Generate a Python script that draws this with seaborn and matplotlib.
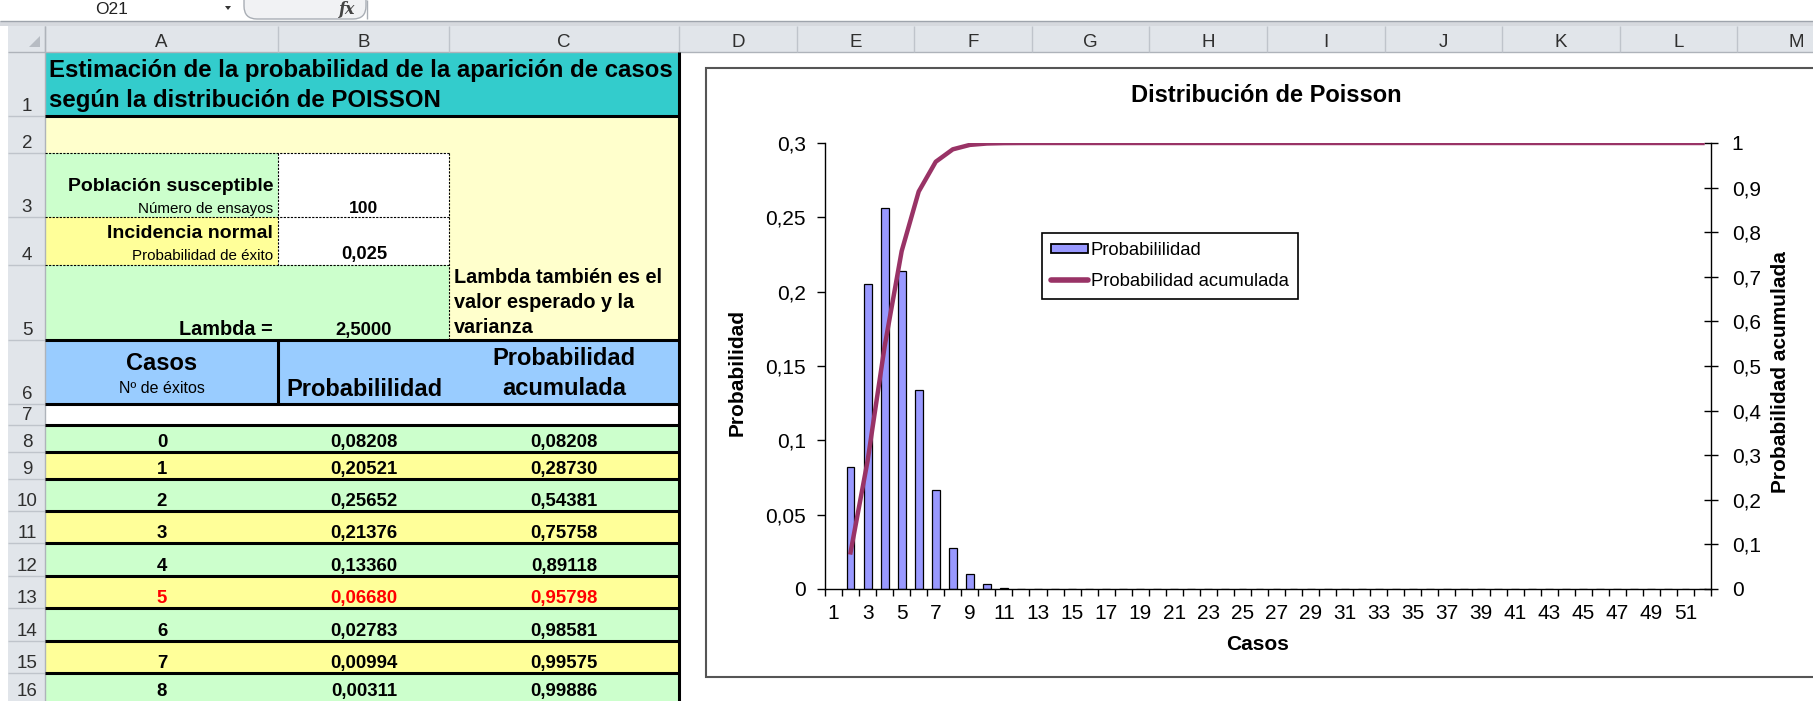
import numpy as np
import pandas as pd
import matplotlib
matplotlib.use("Agg")
import matplotlib.pyplot as plt
import seaborn as sns
from matplotlib.patches import Rectangle, Patch, Polygon, FancyBboxPatch
from matplotlib.lines import Line2D
from matplotlib.transforms import Affine2D
from matplotlib import font_manager as fm

# ---------------- data ----------------
casos = list(range(1, 53))   # Excel category numbers on the x axis
# first category is the blank row of the sheet, then P(X=k), k = 0..50
probabilidad = [np.nan,
                0.08208, 0.20521, 0.25652, 0.21376, 0.13360, 0.06680, 0.02783, 0.00994,
                0.00311, 0.00086, 0.00022, 0.00005, 0.00001, 0.000002, 0.0000004, 0.00000006,
                0.0, 0.0, 0.0, 0.0, 0.0, 0.0, 0.0, 0.0, 0.0, 0.0,
                0.0, 0.0, 0.0, 0.0, 0.0, 0.0, 0.0, 0.0, 0.0, 0.0,
                0.0, 0.0, 0.0, 0.0, 0.0, 0.0, 0.0, 0.0, 0.0, 0.0,
                0.0, 0.0, 0.0, 0.0, 0.0]
acumulada = [np.nan,
             0.08208, 0.28730, 0.54381, 0.75758, 0.89118, 0.95798, 0.98581, 0.99575,
             0.99886, 0.99972, 0.99994, 0.99999, 1.0, 1.0, 1.0, 1.0,
             1.0, 1.0, 1.0, 1.0, 1.0, 1.0, 1.0, 1.0, 1.0, 1.0,
             1.0, 1.0, 1.0, 1.0, 1.0, 1.0, 1.0, 1.0, 1.0, 1.0,
             1.0, 1.0, 1.0, 1.0, 1.0, 1.0, 1.0, 1.0, 1.0, 1.0,
             1.0, 1.0, 1.0, 1.0, 1.0]
x_tick_labels = [str(c) for c in casos[::2]]
left_ticks = [0, 0.05, 0.1, 0.15, 0.2, 0.25, 0.3]
left_labels = ["0", "0,05", "0,1", "0,15", "0,2", "0,25", "0,3"]
right_ticks = [0, 0.1, 0.2, 0.3, 0.4, 0.5, 0.6, 0.7, 0.8, 0.9, 1.0]
right_labels = ["0", "0,1", "0,2", "0,3", "0,4", "0,5", "0,6", "0,7", "0,8", "0,9", "1"]

# sheet table (rows 8..16 of the spreadsheet)
tabla_casos = [0, 1, 2, 3, 4, 5, 6, 7, 8]
tabla_prob = ["0,08208", "0,20521", "0,25652", "0,21376", "0,13360", "0,06680", "0,02783", "0,00994", "0,00311"]
tabla_acum = ["0,08208", "0,28730", "0,54381", "0,75758", "0,89118", "0,95798", "0,98581", "0,99575", "0,99886"]
n_ensayos = "100"
p_exito = "0,025"
lambda_txt = "2,5000"

# ---------------- fonts ----------------
def has_font(name):
    try:
        fm.findfont(fm.FontProperties(family=name), fallback_to_default=False)
        return True
    except Exception:
        return False

SANS = "Liberation Sans" if has_font("Liberation Sans") else "DejaVu Sans"
NARROW = "Liberation Sans Narrow" if has_font("Liberation Sans Narrow") else None

# ---------------- figure ----------------
W, H = 1813, 701
fig = plt.figure(figsize=(W / 100, H / 100), dpi=100)
fig.patch.set_facecolor("white")
PX = Affine2D().scale(1, -1).translate(0, H)


def rect(x0, y0, x1, y1, fc, ec="none", lw=0, z=1):
    fig.add_artist(Rectangle((x0, y0), x1 - x0, y1 - y0, facecolor=fc, edgecolor=ec,
                             linewidth=lw, transform=PX, zorder=z))


def seg(x0, y0, x1, y1, color="black", lw=0.75, ls="-", z=2):
    fig.add_artist(Line2D([x0, x1], [y0, y1], color=color, linewidth=lw, linestyle=ls,
                          transform=PX, zorder=z, solid_capstyle="butt", dash_capstyle="butt"))


def txt(x, y, s, size, weight="normal", ha="center", va="baseline", family=None, color="black",
        style="normal", z=3):
    fig.text(x, y, s, transform=PX, fontsize=size, fontweight=weight, ha=ha, va=va,
             family=family or SANS, color=color, style=style, zorder=z)


def ntxt(x, y, s, size_narrow, size_regular, weight="normal", ha="center", color="black"):
    if NARROW:
        txt(x, y, s, size_narrow, weight=weight, ha=ha, family=NARROW, color=color)
    else:
        txt(x, y, s, size_regular, weight=weight, ha=ha, family=SANS, color=color)


# --- top strip: name box / formula bar ---
HEAD_BG = "#E1E5EA"
HEAD_LN = "#BFC4CB"
ntxt(112, 14, "O21", 14, 12.5, color="#222222")
fig.add_artist(Polygon([(225, 6), (231, 6), (228, 10)], closed=True, facecolor="#333333",
                       edgecolor="none", transform=PX, zorder=3))
fig.add_artist(FancyBboxPatch((244, -14), 122, 33, boxstyle="round,pad=0,rounding_size=13",
                              facecolor="#F1F2F4", edgecolor="#A9AEB5", linewidth=1,
                              transform=PX, zorder=2))
seg(367, 0, 367, 19, color="#A9AEB5", lw=1)
txt(347, 14, "fx", 11.5, weight="bold", style="italic", family="DejaVu Serif", color="#444444")
rect(0, 20.5, W, 26, "#D6D9DE")
seg(0, 21, W, 21, color="#9EA4AC", lw=1)

# --- column headers ---
rect(8, 26, W, 52, HEAD_BG)
seg(8, 52, W, 52, color="#AEB3BA", lw=1)
col_edges = [45, 278, 449, 679] + [679 + 117.6 * i for i in range(1, 11)]
col_names = ["A", "B", "C", "D", "E", "F", "G", "H", "I", "J", "K", "L", "M"]
for e in col_edges:
    seg(e, 26, e, 52, color=HEAD_LN, lw=1)
for i, name in enumerate(col_names):
    ntxt((col_edges[i] + col_edges[i + 1]) / 2, 47, name, 15, 13.5, color="#2F2F2F")
# corner triangle
fig.add_artist(Polygon([(40, 36), (40, 47), (29, 47)], closed=True, facecolor="#B7BCC3",
                       edgecolor="none", transform=PX, zorder=3))

# --- row headers ---
row_edges = [52, 116, 153, 217, 265, 340, 404, 425, 452, 479, 511, 543, 576, 608, 641, 673, 706]
rect(8, 52, 45, H + 2, HEAD_BG)
seg(45, 26, 45, H, color="#AEB3BA", lw=1)
for e in row_edges[1:]:
    seg(8, e, 45, e, color=HEAD_LN, lw=1)


def base(i):
    # baseline of the text in sheet row i (0-based); the last row is kept inside the picture
    return min(row_edges[i + 1] - 5, H - 5)


for i in range(len(row_edges) - 1):
    ntxt(27, base(i), str(i + 1), 15, 13.5, color="#2F2F2F")

# --- sheet cells ---
TEAL, LYEL, LGRN, YEL, BLUE = "#33CCCC", "#FFFFCC", "#CCFFCC", "#FFFF99", "#99CCFF"
rect(45, 52, 679, 116, TEAL)
rect(45, 116, 679, 340, LYEL)
rect(45, 153, 278, 217, LGRN)
rect(278, 153, 449, 265, "white")
rect(45, 217, 278, 265, YEL)
rect(45, 265, 449, 340, LGRN)
rect(45, 340, 679, 404, BLUE)
rect(45, 404, 679, 425, "white")
for i in range(9):
    rect(45, row_edges[7 + i], 679, row_edges[8 + i], LGRN if i % 2 == 0 else YEL)

# dashed borders
dash = (0, (2.0, 1.2))
for y in (153, 217, 265):
    seg(45, y, 449, y, lw=0.8, ls=dash)
seg(278, 153, 278, 265, lw=0.8, ls=dash)
seg(449, 153, 449, 340, lw=0.8, ls=dash)

# thick borders
TH = 2.2
seg(45, 116, 679, 116, lw=TH)
seg(45, 340, 679, 340, lw=TH)
seg(45, 404, 679, 404, lw=TH)
seg(278, 340, 278, 404, lw=TH)
for e in row_edges[7:16]:
    seg(45, e, 679, e, lw=TH)
seg(679, 52, 679, H + 2, lw=TH)

# texts
txt(49, 77, "Estimación de la probabilidad de la aparición de casos", 17.3, weight="bold", ha="left")
txt(49, 107, "según la distribución de POISSON", 17.3, weight="bold", ha="left")
txt(273, 191, "Población susceptible", 14, weight="bold", ha="right")
ntxt(273, 213, "Número de ensayos", 13, 10.9, ha="right")
ntxt(364, 213, n_ensayos, 15, 12.6, weight="bold")
txt(273, 238, "Incidencia normal", 14, weight="bold", ha="right")
ntxt(273, 260, "Probabilidad de éxito", 13, 10.9, ha="right")
ntxt(364, 259, p_exito, 15, 13.2, weight="bold")
txt(273, 335, "Lambda =", 14.3, weight="bold", ha="right")
ntxt(364, 335, lambda_txt, 15, 13.2, weight="bold")
for yb, line in zip((283, 308, 333), ("Lambda también es el", "valor esperado y la", "varianza")):
    txt(454, yb, line, 14.3, weight="bold", ha="left")
txt(162, 370, "Casos", 17, weight="bold")
txt(162, 393, "Nº de éxitos", 11.5)
txt(364, 396, "Probabililidad", 17, weight="bold")
txt(564, 365, "Probabilidad", 17, weight="bold")
txt(564, 395, "acumulada", 17, weight="bold")
for i, (k, pv, av) in enumerate(zip(tabla_casos, tabla_prob, tabla_acum)):
    yb = base(7 + i)
    col = "#FF0000" if k == 5 else "black"
    ntxt(162, yb, str(k), 15, 13.4, weight="bold", color=col)
    ntxt(364, yb, pv, 15, 13.4, weight="bold", color=col)
    ntxt(564, yb, av, 15, 13.4, weight="bold", color=col)

# --- chart frame ---
fig.add_artist(Rectangle((706, 68), W + 20 - 706, 677 - 68, facecolor="white", edgecolor="#555555",
                         linewidth=1.5, transform=PX, zorder=-1))

# ---------------- chart ----------------
df = pd.DataFrame({"caso": casos, "prob": probabilidad, "acum": acumulada})
AX_L, AX_R, AX_T, AX_B = 825, 1711, 143, 589
ax = fig.add_axes([AX_L / W, (H - AX_B) / H, (AX_R - AX_L) / W, (AX_B - AX_T) / H])
ax.set_facecolor("none")
sns.barplot(data=df, x="caso", y="prob", order=casos, ax=ax, color="#9999FF", saturation=1,
            edgecolor="black", linewidth=0.9, width=0.46, errorbar=None, zorder=2)

ax2 = ax.twinx()
sns.lineplot(x=np.arange(len(casos)), y=df["acum"], ax=ax2, color="#993366", linewidth=3.2,
             estimator=None, sort=False, zorder=3)

FS = 15
ax.set_xlim(-0.5, len(casos) - 0.5)
ax.set_ylim(0, 0.3)
ax2.set_ylim(0, 1)
ax.set_xticks(np.arange(0, len(casos), 2))
ax.set_xticklabels(x_tick_labels, fontsize=FS, family=SANS)
ax.set_xticks(np.arange(-0.5, len(casos), 1), minor=True)
ax.set_yticks(left_ticks)
ax.set_yticklabels(left_labels, fontsize=FS, family=SANS)
ax2.set_yticks(right_ticks)
ax2.set_yticklabels(right_labels, fontsize=FS, family=SANS)

ax.tick_params(axis="x", which="major", length=0, pad=11, colors="black")
ax.tick_params(axis="x", which="minor", length=5, width=1, direction="out", color="black")
ax.tick_params(axis="y", length=5.8, width=1, direction="out", pad=8, colors="black")
ax2.tick_params(axis="y", length=10, width=1, direction="inout", pad=10, colors="black")

for s in ("top", "right"):
    ax.spines[s].set_visible(False)
for s in ("top", "left", "bottom"):
    ax2.spines[s].set_visible(False)
for sp in (ax.spines["left"], ax.spines["bottom"], ax2.spines["right"]):
    sp.set_color("black")
    sp.set_linewidth(1)

ax.set_xlabel("Casos", fontsize=FS, fontweight="bold", family=SANS, va="center")
ax.xaxis.set_label_coords((1258 - AX_L) / (AX_R - AX_L), (AX_B - 645) / (AX_B - AX_T))
ax.set_ylabel("Probabilidad", fontsize=FS, fontweight="bold", family=SANS, va="center")
ax.yaxis.set_label_coords((737 - AX_L) / (AX_R - AX_L), (AX_B - 372) / (AX_B - AX_T))
ax2.set_ylabel("Probabilidad acumulada", fontsize=FS, fontweight="bold", family=SANS, va="center")
ax2.yaxis.set_label_coords((1780 - AX_L) / (AX_R - AX_L), (AX_B - 372) / (AX_B - AX_T))
ax.set_title("Distribución de Poisson", fontsize=17, fontweight="bold", family=SANS,
             x=(1266 - AX_L) / (AX_R - AX_L), y=(AX_B - 104) / (AX_B - AX_T), va="center")

handles = [Patch(facecolor="#9999FF", edgecolor="black", linewidth=1.3),
           Line2D([0], [0], color="#993366", linewidth=4, solid_capstyle="round")]
leg = ax2.legend(handles, ["Probabililidad", "Probabilidad acumulada"],
                 loc="upper left", bbox_to_anchor=(1042 / W, 1 - 233 / H),
                 bbox_transform=fig.transFigure, frameon=True, fancybox=False,
                 edgecolor="black", framealpha=1, prop={"family": SANS, "size": 13.3},
                 handlelength=2.0, handleheight=0.4, handletextpad=0.15,
                 labelspacing=0.75, borderpad=0.5, borderaxespad=0)
leg.get_frame().set_linewidth(1.2)

fig.savefig("out.png", dpi=100, facecolor="white")
